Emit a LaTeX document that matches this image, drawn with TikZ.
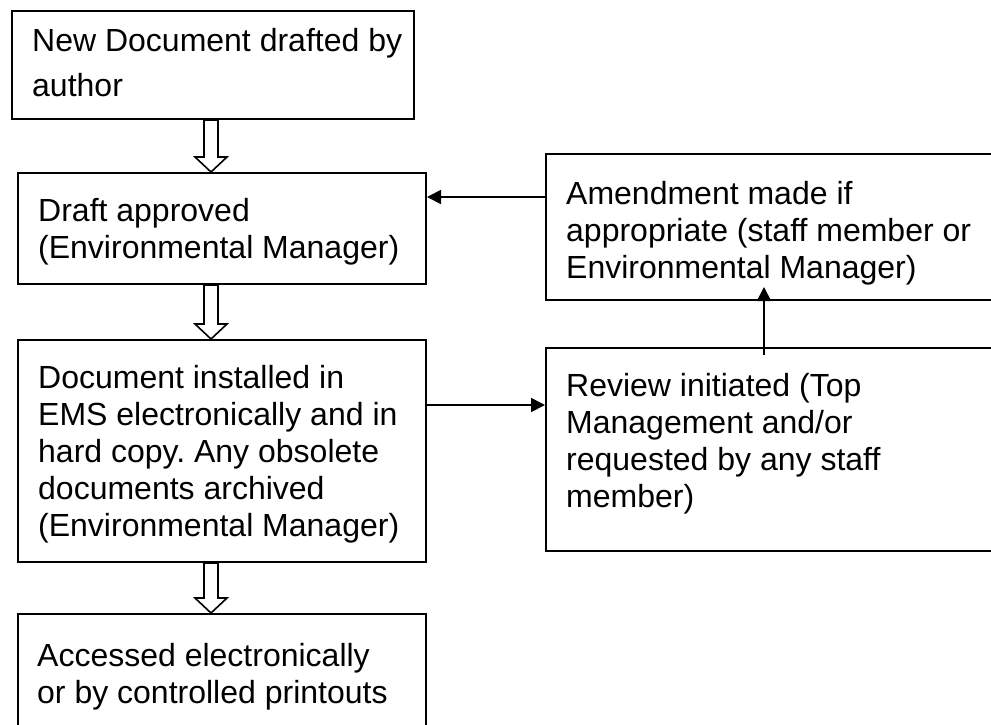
\documentclass[tikz,border=0pt]{standalone}
\usepackage{fontspec}
\setmainfont{Liberation Sans}
\frenchspacing
\usetikzlibrary{arrows.meta,calc}
\newcommand\blockarrow[2]{%
  \draw[hollow] ([xshift=-7pt]#1) -- ([xshift=7pt]#1) -- ([xshift=7pt,yshift=15pt]#2)
    -- ([xshift=16pt,yshift=15pt]#2) -- (#2) -- ([xshift=-16pt,yshift=15pt]#2)
    -- ([xshift=-7pt,yshift=15pt]#2) -- cycle;}
\begin{document}
\begin{tikzpicture}[x=1pt,y=-1pt,
  box/.style={draw,line width=2pt,rectangle,inner sep=0pt,anchor=north west},
  txt/.style={anchor=north west,inner sep=0pt,align=left,font=\fontsize{32}{37}\selectfont\frenchspacing},
  conn/.style={line width=1.8pt,-{Triangle[length=14pt,width=14pt]}},
  hollow/.style={draw,line width=1.6pt,fill=white,line join=miter}]
\useasboundingbox (0,0) rectangle (991,724);
% boxes
\node[box,minimum width=402pt,minimum height=108pt] (b1) at (11,10) {};
\node[box,minimum width=408pt,minimum height=111pt] (b2) at (17,172) {};
\node[box,minimum width=408pt,minimum height=222pt] (b3) at (17,339) {};
\node[box,minimum width=408pt,minimum height=130pt] (b4) at (17,613) {};
\node[box,minimum width=470pt,minimum height=146pt] (am) at (545,153) {};
\node[box,minimum width=470pt,minimum height=203pt] (rv) at (545,347) {};
% texts
\node[txt,font=\fontsize{32}{45}\selectfont\frenchspacing] (t1) at ([xshift=21pt,yshift=-18pt]b1.north west) {New Document drafted by\\author};
\node[txt] (t2) at ([xshift=21pt,yshift=-26pt]b2.north west) {Draft approved\\(Environmental Manager)};
\node[txt] (t3) at ([xshift=21pt,yshift=-26pt]b3.north west) {Document installed in\\EMS electronically and in\\hard copy. Any obsolete\\documents archived\\(Environmental Manager)};
\node[txt] (t4) at ([xshift=20pt,yshift=-30pt]b4.north west) {Accessed electronically\\or by controlled printouts};
\node[txt] (ta) at ([xshift=21pt,yshift=-28pt]am.north west) {Amendment made if\\appropriate (staff member or\\Environmental Manager)};
\node[txt] (tr) at ([xshift=21pt,yshift=-26pt]rv.north west) {Review initiated (Top\\Management and/or\\requested by any staff\\member)};
% block arrows
\coordinate (ax) at (211,0);
\coordinate (vx) at (764,0);
\blockarrow{b1.south -| ax}{b2.north -| ax}
\blockarrow{b2.south -| ax}{b3.north -| ax}
\blockarrow{b3.south -| ax}{b4.north -| ax}
% connectors
\draw[conn] ([yshift=30pt]am.west) -- ([yshift=30pt]am.west -| b2.east);
\draw[conn] ([yshift=46pt]b3.east) -- ([yshift=46pt]b3.east -| rv.west);
\draw[conn] ([yshift=-8pt]rv.north -| vx) -- ([yshift=14pt]am.south -| vx);
\end{tikzpicture}
\end{document}
